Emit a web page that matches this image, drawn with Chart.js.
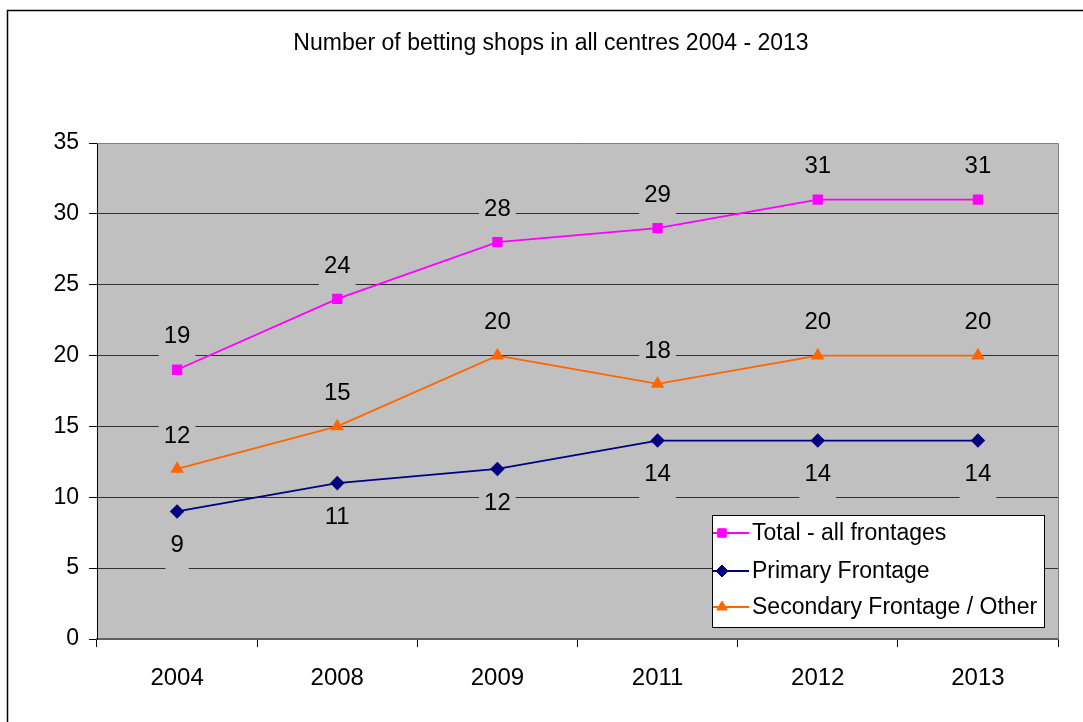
<!DOCTYPE html>
<html>
<head>
<meta charset="utf-8">
<script src="https://cdn.jsdelivr.net/npm/chart.js@4"></script>
<style>
html,body{margin:0;padding:0;background:#fff;}
#wrap{width:1083px;height:722px;}
</style>
</head>
<body>
<div id="wrap"><canvas id="c" width="1083" height="722"></canvas></div>
<script>
const titleText = "Number of betting shops in all centres 2004 - 2013";
const years = ["2004", "2008", "2009", "2011", "2012", "2013"];
const totalAll = [19, 24, 28, 29, 31, 31];
const primary = [9, 11, 12, 14, 14, 14];
const secondary = [12, 15, 20, 18, 20, 20];
const seriesNames = ["Total - all frontages", "Primary Frontage", "Secondary Frontage / Other"];
const yMin = 0, yMax = 35, yStep = 5;

const FONT = "'Liberation Sans', Arial, sans-serif";

const framePlugin = {
  id: 'frame',
  beforeDraw(chart) {
    const ctx = chart.ctx, a = chart.chartArea;
    ctx.save();
    ctx.fillStyle = '#fff';
    ctx.fillRect(0, 0, chart.width, chart.height);
    ctx.strokeStyle = '#000';
    ctx.lineWidth = 1.5;
    ctx.strokeRect(7.5, 10.5, 1200, 900);
    ctx.fillStyle = '#c0c0c0';
    ctx.fillRect(a.left, a.top, a.right - a.left, a.bottom - a.top);
    ctx.fillStyle = '#000';
    ctx.font = '23px ' + FONT;
    ctx.textAlign = 'center';
    ctx.textBaseline = 'middle';
    ctx.fillText(titleText, 551, 44);
    ctx.restore();
  },
  beforeDatasetsDraw(chart) {
    const ctx = chart.ctx, a = chart.chartArea;
    ctx.save();
    ctx.strokeStyle = '#808080';
    ctx.lineWidth = 1;
    ctx.beginPath();
    ctx.moveTo(a.left, a.top + 0.5);
    ctx.lineTo(a.right + 0.5, a.top + 0.5);
    ctx.lineTo(a.right + 0.5, a.bottom);
    ctx.stroke();
    // data labels
    ctx.font = '24px ' + FONT;
    ctx.textAlign = 'center';
    ctx.textBaseline = 'middle';
    chart.data.datasets.forEach((ds, di) => {
      const meta = chart.getDatasetMeta(di);
      const below = ds.labelBelow;
      meta.data.forEach((pt, i) => {
        const txt = String(ds.data[i]);
        const cx = pt.x;
        const cy = below ? pt.y + 34 : pt.y - 33;
        const w = ctx.measureText(txt).width + 10;
        ctx.fillStyle = '#c0c0c0';
        ctx.fillRect(cx - w / 2, cy - 14, w, 39);
        ctx.fillStyle = '#000';
        ctx.fillText(txt, cx, cy);
      });
    });
    ctx.restore();
  },
  afterDraw(chart) {
    const ctx = chart.ctx;
    ctx.save();
    const lx = 712, ly = 515, lw = 332, lh = 112;
    ctx.fillStyle = '#fff';
    ctx.fillRect(lx, ly, lw, lh);
    ctx.strokeStyle = '#000';
    ctx.lineWidth = 1;
    ctx.strokeRect(lx + 0.5, ly + 0.5, lw, lh);
    const rows = [533, 571, 607];
    ctx.font = '23px ' + FONT;
    ctx.textAlign = 'left';
    ctx.textBaseline = 'middle';
    chart.data.datasets.forEach((ds, di) => {
      const y = rows[di];
      ctx.strokeStyle = ds.borderColor;
      ctx.lineWidth = 1.8;
      ctx.beginPath();
      ctx.moveTo(713, y);
      ctx.lineTo(749, y);
      ctx.stroke();
      ctx.fillStyle = ds.pointBackgroundColor;
      ctx.strokeStyle = ds.pointBorderColor;
      ctx.lineWidth = 1;
      Chart.helpers.drawPoint(ctx, {pointStyle: ds.pointStyle, radius: ds.pointRadius, borderWidth: 1}, 722, y);
      ctx.fillStyle = '#000';
      ctx.fillText(ds.label, 752, y + 1);
    });
    ctx.restore();
  }
};

new Chart(document.getElementById('c'), {
  type: 'line',
  data: {
    labels: years,
    datasets: [
      {label: seriesNames[0], data: totalAll, borderColor: '#ff00ff', backgroundColor: '#ff00ff',
       pointBackgroundColor: '#ff00ff', pointBorderColor: '#ff00ff', pointStyle: 'rect', pointRadius: 6,
       borderWidth: 1.8, labelBelow: false},
      {label: seriesNames[1], data: primary, borderColor: '#000080', backgroundColor: '#000080',
       pointBackgroundColor: '#000080', pointBorderColor: '#000080', pointStyle: 'rectRot', pointRadius: 6,
       borderWidth: 1.8, labelBelow: true},
      {label: seriesNames[2], data: secondary, borderColor: '#ff6600', backgroundColor: '#ff6600',
       pointBackgroundColor: '#ff6600', pointBorderColor: '#ff6600', pointStyle: 'triangle', pointRadius: 6,
       borderWidth: 1.8, labelBelow: false}
    ]
  },
  options: {
    responsive: false,
    animation: false,
    layout: {padding: {left: 0, top: 143, right: 25, bottom: 0}},
    plugins: {legend: {display: false}, title: {display: false}, tooltip: {enabled: false}},
    elements: {line: {tension: 0}},
    scales: {
      x: {
        offset: true,
        grid: {display: true, drawOnChartArea: false, drawTicks: true, tickLength: 8, offset: true, color: '#000'},
        border: {color: '#606060', width: 2},
        ticks: {color: '#000', font: {family: FONT, size: 24}, padding: 17, maxRotation: 0},
        afterFit(s) { s.height = 83; }
      },
      y: {
        min: yMin, max: yMax,
        grid: {color: '#303030', lineWidth: 1, tickLength: 8, tickColor: '#000'},
        border: {color: '#000', width: 1},
        ticks: {stepSize: yStep, color: '#000', font: {family: FONT, size: 23}, padding: 10},
        afterFit(s) { s.width = 97; }
      }
    }
  },
  plugins: [framePlugin]
});
</script>
</body>
</html>
